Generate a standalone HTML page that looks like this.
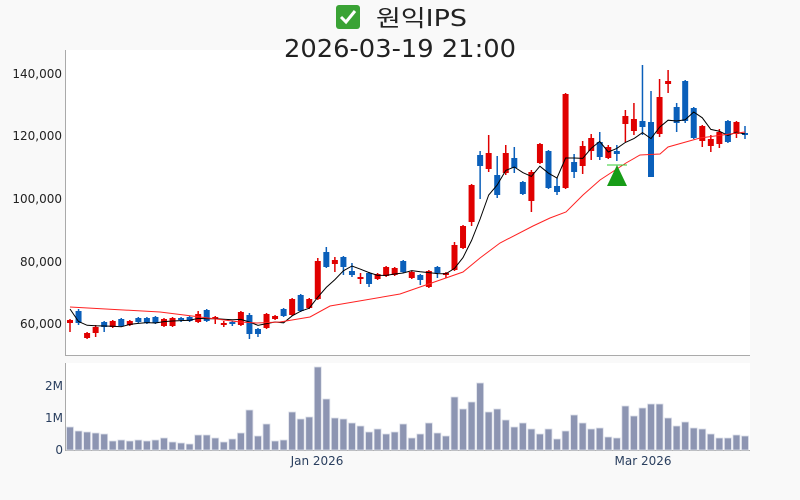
<!DOCTYPE html>
<html><head><meta charset="utf-8"><style>
html,body{margin:0;padding:0;background:#f9f9f9;}
svg{display:block;font-family:"DejaVu Sans","Liberation Sans","Noto Sans CJK KR",sans-serif;}
</style></head><body>
<svg id="s" width="800" height="500" xmlns="http://www.w3.org/2000/svg">
<rect width="800" height="500" fill="#f9f9f9"/>
<rect x="66" y="50" width="684" height="305" fill="#fff"/>
<rect x="66" y="363" width="684" height="87" fill="#fff"/>
<line x1="65.5" y1="50" x2="65.5" y2="355" stroke="#aaa"/>
<line x1="65" y1="355.5" x2="750" y2="355.5" stroke="#aaa"/>
<line x1="65.5" y1="363" x2="65.5" y2="450" stroke="#aaa"/>
<line x1="65" y1="450.5" x2="750" y2="450.5" stroke="#aaa"/>
<g font-size="12" fill="#222" text-anchor="end">
<text x="62" y="78">140,000</text>
<text x="62" y="140">120,000</text>
<text x="62" y="203">100,000</text>
<text x="62" y="266">80,000</text>
<text x="62" y="328">60,000</text>
</g>
<g font-size="12" fill="#2a3f5f" text-anchor="end">
<text x="63" y="390">2M</text>
<text x="63" y="422">1M</text>
<text x="63" y="454">0</text>
</g>
<g font-size="12" fill="#2a3f5f" text-anchor="middle">
<text x="317" y="465">Jan 2026</text>
<text x="643" y="465">Mar 2026</text>
</g>
<rect x="336" y="5" width="24" height="24" rx="3" fill="#3aa335"/>
<path d="M341 17 l5 5 l9 -11" stroke="#fff" stroke-width="3" fill="none"/>
<text x="376" y="26" font-size="23" fill="#222" textLength="91" lengthAdjust="spacingAndGlyphs">원익IPS</text>
<text x="400" y="57" font-size="25" fill="#222" text-anchor="middle" textLength="232" lengthAdjust="spacingAndGlyphs">2026-03-19 21:00</text>
<g id="vol"></g><g id="cd"></g><g id="ln"></g>
<line x1="607" y1="165" x2="627" y2="165" stroke="#3c3" stroke-width="1"/>
<polygon points="617,165 607,186 627,186" fill="#179c17"/>
</svg>
<script>
var C=[
['r',320,323,319,332],['b',311,323,309,325],['r',333,338,332,339],['r',327,333,325,337],['b',322,327,321,332],
['r',321,327,320,328],['b',319,326,318,327],['r',321,325,320,326],['b',318,322,317,323],['b',318,323,317,324],
['b',317,323,316,324],['r',319,326,318,327],['r',318,326,317,327],['b',318,320,317,322],['b',317,321,316,322],
['r',314,322,311,323],['b',310,321,309,322],['r',317,319,316,324],['r',323,325,321,327],['b',322,324,321,326],
['r',312,325,311,326],['b',315,334,313,339],['b',329,334,328,337],['r',314,328,313,329],['r',316,319,315,320],
['b',309,316,308,317],['r',299,315,298,316],['b',295,311,294,312],['r',299,308,298,309],['r',261,299,258,300],
['b',252,267,247,268],['r',260,264,257,272],['b',257,267,256,275],['b',271,275,263,277],['r',277,279,273,284],
['b',273,284,272,287],['r',274,279,273,280],['r',267,276,266,277],['r',268,275,267,276],['b',261,272,260,273],
['r',272,278,271,279],['b',275,280,274,285],['r',271,287,270,288],['b',267,273,266,278],['r',273,275,272,278],
['r',245,270,242,271],['r',226,248,225,249],['r',185,222,184,226],['b',155,166,151,199],['r',153,169,135,172],
['b',175,195,156,198],['r',153,173,145,175],['b',158,168,147,173],['b',182,194,181,195],['r',172,201,170,212],
['r',144,163,143,164],['b',151,188,150,189],['b',186,192,178,195],['r',94,188,93,189],['b',162,172,154,178],
['r',146,166,141,174],['r',138,151,134,160],['b',142,157,132,160],['r',147,158,145,159],['b',151,154,145,161],
['r',116,124,110,142],['r',119,131,103,135],['b',121,127,65,135],['b',122,177,91,177],['r',97,134,79,137],
['r',81,84,70,93],['b',107,123,103,132],['b',81,121,80,123],['b',108,138,107,139],['r',126,141,125,147],
['r',139,146,135,152],['r',132,144,129,148],['b',121,142,120,143],['r',122,134,121,138],['b',133,135,126,139]];
var V=[427,431,432,433,434,441,440,441,440,441,440,438,442,443,444,435,435,438,442,439,433,410,436,424,441,440,412,419,417,367,399,418,419,423,426,432,429,434,432,424,438,434,423,433,436,397,409,402,383,412,409,420,427,423,429,434,429,439,431,415,423,429,428,437,438,406,416,408,404,404,418,426,422,428,429,434,438,438,435,436];
var ns="http://www.w3.org/2000/svg";
function el(p,t,a){var e=document.createElementNS(ns,t);for(var k in a)e.setAttribute(k,a[k]);document.getElementById(p).appendChild(e);return e;}
var dx=(745-70)/79,cl=[];
C.forEach(function(c,i){var x=70+dx*i,col=c[0]=='r'?'#e00000':'#0a5fba';
el('cd','line',{x1:x,x2:x,y1:c[3],y2:c[4],stroke:col,'stroke-width':1.5});
var h=Math.max(c[2]-c[1],2);el('cd','rect',{x:x-3,y:c[1],width:6,height:h,fill:col});
cl.push(c[0]=='r'?c[1]:c[2]);});
V.forEach(function(v,i){var x=70+dx*i;el('vol','rect',{x:x-3.5,y:v,width:7,height:450-v,fill:'#8d95b2',stroke:'#dde0ea','stroke-width':0.8});});
var pts=[];cl.forEach(function(c,i){var s=0,n=0;for(var j=Math.max(0,i-4);j<=i;j++){s+=cl[j];n++;}pts.push((70+dx*i).toFixed(1)+','+(s/n).toFixed(1));});
pts[0]='70,309';
el('ln','polyline',{points:pts.join(' '),fill:'none',stroke:'#000','stroke-width':1});
el('ln','polyline',{points:'70,307 160,312 240,322 257,323 280,322 310,317 330,306 400,294 443,279 463,272 480,258 500,243 533,226 550,218 566,212 583,195 600,180 626,163 640,155 660,154 668,147 700,138 745,132',fill:'none',stroke:'#f22','stroke-width':1});
</script>
</body></html>
